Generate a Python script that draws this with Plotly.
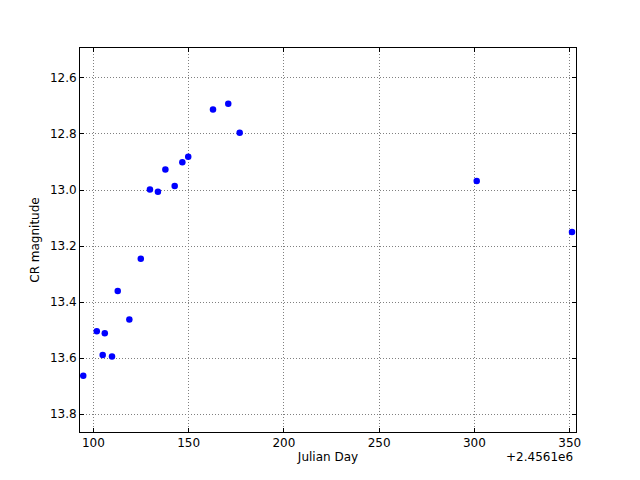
import plotly.graph_objects as go

# Julian Day minus offset 2456100
jd_offset_label = "+2.4561e6"
days = [94.7, 101.8, 106.0, 104.9, 109.8, 112.8, 118.9, 124.9, 129.7, 133.9,
        137.8, 142.7, 146.7, 149.8, 162.8, 170.8, 176.8, 301.2, 351.2]
cr_mag = [13.663, 13.504, 13.511, 13.589, 13.594, 13.361, 13.462, 13.245, 12.998, 13.006,
          12.927, 12.986, 12.901, 12.881, 12.713, 12.692, 12.796, 12.968, 13.150]
x_ticks = [100, 150, 200, 250, 300, 350]
y_ticks = [12.6, 12.8, 13.0, 13.2, 13.4, 13.6, 13.8]

fig = go.Figure()
fig.add_trace(go.Scatter(
    x=days, y=cr_mag, mode="markers",
    marker=dict(color="#0000ff", size=6.5, line=dict(width=0)),
    showlegend=False,
))

font = dict(family="DejaVu Sans", size=12, color="black")
axis_common = dict(
    showline=True, linecolor="black", linewidth=1, mirror="allticks",
    ticks="inside", ticklen=4, tickcolor="black", tickwidth=1,
    showgrid=True, gridcolor="#808080", griddash="1px,2px", gridwidth=1,
    zeroline=False, tickfont=font, automargin=False,
)
fig.update_layout(
    width=640, height=480,
    margin=dict(l=80, r=64, t=48, b=48),
    paper_bgcolor="white", plot_bgcolor="white",
    font=font,
    xaxis=dict(range=[93.0, 353.3], tickvals=x_ticks,
               title=dict(text="Julian Day", font=font, standoff=3), **axis_common),
    yaxis=dict(range=[13.864, 12.493], tickvals=y_ticks, tickformat=".1f",
               title=dict(text="CR magnitude", font=font, standoff=7), **axis_common),
    annotations=[dict(text=jd_offset_label, xref="paper", yref="paper", x=0.997, y=-0.066,
                      xanchor="right", yanchor="middle", showarrow=False, font=font)],
)
fig.write_html("out.html", config={"displayModeBar": False},
               post_script="document.body.style.margin='0';")
